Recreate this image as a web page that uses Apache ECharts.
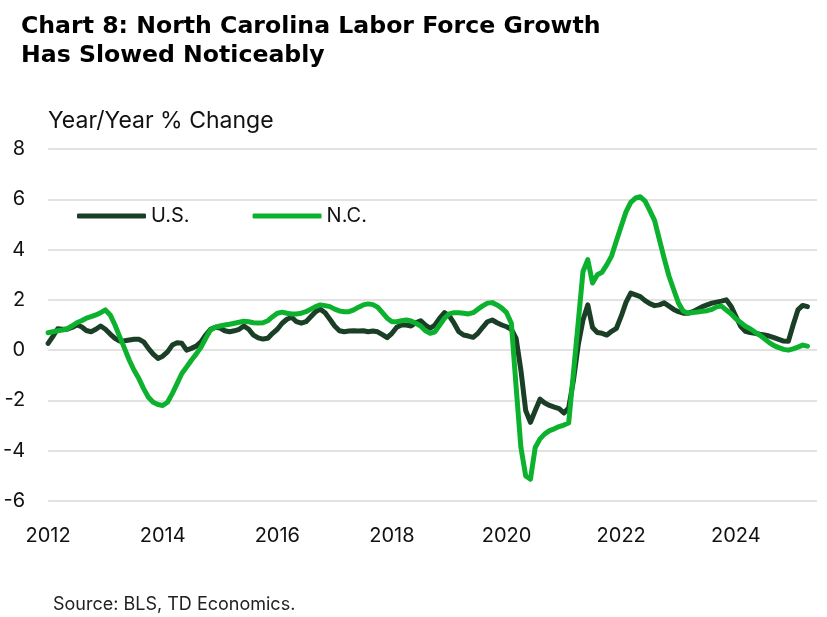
<!DOCTYPE html>
<html style="height: 100%">

<head>
    <meta charset="utf-8">
</head>

<body style="height: 100%; margin: 0; background: #fff">
    <div id="container" style="width: 827px; height: 617px"></div>
    <script src="https://cdn.jsdelivr.net/npm/echarts@6/dist/echarts.min.js"></script>
    <script type="text/javascript">
        // monthly y/y % change, Jan 2012 .. Apr 2025
        var startYear = 2012;
        var seriesNames = ['U.S.', 'N.C.'];
        var usYoY = [
            0.27, 0.55, 0.85, 0.83, 0.83, 0.9, 1.0, 0.93, 0.78, 0.73, 0.83, 0.96,
            0.83, 0.64, 0.47, 0.36, 0.37, 0.4, 0.43, 0.43, 0.33, 0.07, -0.16, -0.33,
            -0.24, -0.07, 0.2, 0.29, 0.27, 0.0, 0.07, 0.16, 0.33, 0.6, 0.83, 0.91,
            0.88, 0.77, 0.73, 0.77, 0.83, 0.96, 0.83, 0.6, 0.49, 0.44, 0.47, 0.67,
            0.83, 1.07, 1.23, 1.31, 1.13, 1.07, 1.13, 1.33, 1.53, 1.63, 1.49, 1.23,
            0.96, 0.77, 0.73, 0.76, 0.77, 0.76, 0.77, 0.73, 0.76, 0.73, 0.62, 0.5,
            0.67, 0.91, 1.0, 1.0, 0.96, 1.09, 1.17, 1.0, 0.87, 1.0, 1.27, 1.49,
            1.36, 1.07, 0.73, 0.6, 0.56, 0.51, 0.67, 0.91, 1.13, 1.2, 1.09, 1.0,
            0.93, 0.83, 0.47, -0.8, -2.4, -2.87, -2.4, -1.95, -2.1, -2.2, -2.27, -2.33,
            -2.5, -2.3, -1.2, 0.2, 1.2, 1.8, 0.9, 0.7, 0.67, 0.6, 0.75, 0.87,
            1.35, 1.9, 2.27, 2.2, 2.13, 1.97, 1.85, 1.77, 1.8, 1.88, 1.75, 1.62,
            1.53, 1.47, 1.47, 1.53, 1.63, 1.73, 1.8, 1.87, 1.91, 1.95, 2.0, 1.75,
            1.35, 0.95, 0.75, 0.7, 0.67, 0.63, 0.6, 0.56, 0.5, 0.43, 0.36, 0.35,
            1.0, 1.6, 1.78, 1.73
        ];
        var ncYoY = [
            0.69, 0.73, 0.77, 0.8, 0.85, 0.96, 1.09, 1.17, 1.27, 1.33, 1.4, 1.49,
            1.6, 1.4, 1.0, 0.53, 0.07, -0.4, -0.8, -1.13, -1.53, -1.87, -2.07, -2.16,
            -2.2, -2.07, -1.73, -1.33, -0.93, -0.67, -0.4, -0.16, 0.11, 0.47, 0.8, 0.91,
            0.96, 1.0, 1.03, 1.07, 1.11, 1.15, 1.13, 1.09, 1.08, 1.09, 1.17, 1.33,
            1.47, 1.51, 1.47, 1.44, 1.44, 1.47, 1.53, 1.63, 1.73, 1.8, 1.77, 1.73,
            1.63, 1.56, 1.53, 1.53, 1.6, 1.71, 1.8, 1.84, 1.81, 1.71, 1.49, 1.27,
            1.13, 1.13, 1.17, 1.2, 1.16, 1.07, 0.96, 0.77, 0.67, 0.73, 1.0, 1.27,
            1.44, 1.49, 1.49, 1.47, 1.44, 1.49, 1.63, 1.76, 1.87, 1.89, 1.8, 1.67,
            1.49, 1.07, -1.47, -3.87, -5.0, -5.13, -3.87, -3.53, -3.33, -3.2, -3.13, -3.04,
            -2.98, -2.9, -0.9, 1.1, 3.13, 3.6, 2.67, 3.0, 3.1, 3.4, 3.75, 4.35,
            4.93, 5.5, 5.88, 6.05, 6.1, 5.93, 5.55, 5.15, 4.4, 3.65, 2.95, 2.4,
            1.87, 1.55, 1.47, 1.5, 1.52, 1.55, 1.57, 1.62, 1.72, 1.75, 1.6, 1.45,
            1.25, 1.1, 0.95, 0.85, 0.72, 0.6, 0.45, 0.3, 0.18, 0.1, 0.03, 0.0,
            0.05, 0.12, 0.2, 0.16
        ];
        var colors = ['#1a3f26', '#0cb12e'];
        var font = 'Inter, "Noto Sans", sans-serif';

        function toPoints(arr) {
            return arr.map(function (v, i) {
                return [startYear + i / 12, v];
            });
        }

        var dom = document.getElementById("container");
        var myChart = echarts.init(dom);
        var option = {
            animation: false,
            textStyle: { fontFamily: font },
            graphic: [{
                type: 'text',
                x: 21,
                y: 12,
                style: {
                    text: 'Chart 8: North Carolina Labor Force Growth\nHas Slowed Noticeably',
                    font: 'bold 23.6px "DejaVu Sans", sans-serif',
                    lineHeight: 29,
                    verticalAlign: 'top',
                    fill: '#000'
                }
            }, {
                type: 'text',
                x: 48,
                y: 121,
                style: {
                    text: 'Year/Year % Change',
                    font: '23px ' + font,
                    verticalAlign: 'middle',
                    fill: '#111'
                }
            }, {
                type: 'text',
                x: 53,
                y: 605,
                style: {
                    text: 'Source: BLS, TD Economics.',
                    font: '18px ' + font,
                    verticalAlign: 'middle',
                    fill: '#222'
                }
            }],
            legend: {
                left: 77,
                top: 206,
                padding: 0,
                itemWidth: 69,
                itemHeight: 5,
                itemGap: 63,
                icon: 'roundRect',
                textStyle: { fontSize: 20, color: '#111', fontFamily: font },
                data: seriesNames
            },
            grid: {
                left: 48,
                right: 10,
                top: 149,
                bottom: 116
            },
            xAxis: {
                type: 'value',
                min: 2012,
                max: 2025 + 5 / 12,
                interval: 2,
                axisLine: { show: false },
                axisTick: { show: false },
                splitLine: { show: false },
                axisLabel: {
                    margin: 25,
                    fontSize: 20,
                    color: '#111',
                    showMaxLabel: false,
                    formatter: function (v) {
                        return (Number.isInteger(v) && v % 2 === 0) ? String(v) : '';
                    }
                }
            },
            yAxis: {
                type: 'value',
                min: -6,
                max: 8,
                interval: 2,
                axisLine: { show: false },
                axisTick: { show: false },
                splitLine: { lineStyle: { color: '#d9d9d9', width: 1.5 } },
                axisLabel: { margin: 23, fontSize: 20, color: '#111' }
            },
            series: [{
                name: seriesNames[0],
                type: 'line',
                data: toPoints(usYoY),
                showSymbol: false,
                symbol: 'none',
                color: colors[0],
                lineStyle: { width: 5, color: colors[0], cap: 'round', join: 'round' }
            }, {
                name: seriesNames[1],
                type: 'line',
                data: toPoints(ncYoY),
                showSymbol: false,
                symbol: 'none',
                color: colors[1],
                lineStyle: { width: 5, color: colors[1], cap: 'round', join: 'round' }
            }]
        };
        myChart.setOption(option);
    </script>
</body>

</html>
